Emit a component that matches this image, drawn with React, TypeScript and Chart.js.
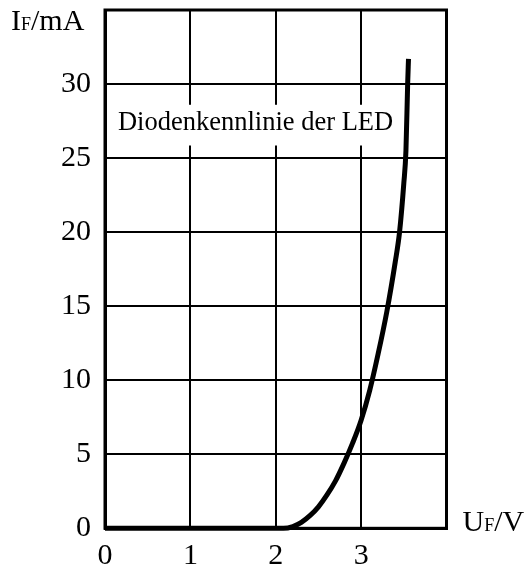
import React, { useEffect, useRef } from "react";
import { Chart, registerables } from "chart.js";

Chart.register(...registerables);

// Data (U_F in V, I_F in mA)
const voltage = [0, 1, 2, 2.09, 2.2, 2.3, 2.4, 2.5, 2.6, 2.7, 2.8, 2.9, 3.0, 3.1, 3.2, 3.3, 3.4, 3.45, 3.5, 3.525, 3.545, 3.555];
const current = [0, 0, 0, 0, 0.12, 0.4, 0.85, 1.45, 2.25, 3.2, 4.4, 5.75, 7.3, 9.3, 11.8, 14.6, 18, 20, 23.3, 25.5, 30, 31.7];

const xTicks = [0, 1, 2, 3];
const yTicks = [0, 5, 10, 15, 20, 25, 30];

const annotationText = "Diodenkennlinie der LED";

const FONT = '"Liberation Serif", "Times New Roman", serif';

const decorPlugin = {
  id: "decor",
  beforeDatasetsDraw(chart: any) {
    const { ctx, chartArea, scales } = chart;
    const xs = scales.x;
    const ys = scales.y;
    ctx.save();
    const bx0 = chartArea.left + 2;
    const bx1 = xs.getPixelForValue(3.45);
    const by0 = ys.getPixelForValue(28.6);
    const by1 = ys.getPixelForValue(25.85);
    ctx.fillStyle = "#ffffff";
    ctx.fillRect(bx0, by0, bx1 - bx0, by1 - by0);
    ctx.fillStyle = "#000000";
    ctx.font = `26.5px ${FONT}`;
    ctx.textBaseline = "alphabetic";
    ctx.textAlign = "left";
    ctx.fillText(annotationText, xs.getPixelForValue(0.152), ys.getPixelForValue(26.88));
    ctx.restore();
  },
  afterDraw(chart: any) {
    const { ctx, chartArea } = chart;
    ctx.save();
    ctx.strokeStyle = "#000";
    ctx.lineWidth = 3;
    ctx.strokeRect(chartArea.left, chartArea.top, chartArea.right - chartArea.left, chartArea.bottom - chartArea.top);
    ctx.fillStyle = "#000";
    ctx.textBaseline = "alphabetic";
    ctx.textAlign = "left";
    const drawSub = (x: number, y: number, main: string, sub: string, rest: string) => {
      ctx.font = `30px ${FONT}`;
      ctx.fillText(main, x, y);
      let cx = x + ctx.measureText(main).width;
      ctx.font = `18px ${FONT}`;
      ctx.fillText(sub, cx, y);
      cx += ctx.measureText(sub).width;
      ctx.font = `30px ${FONT}`;
      ctx.fillText(rest, cx, y);
    };
    drawSub(11, 29.5, "I", "F", "/mA");
    drawSub(chartArea.right + 16, chartArea.bottom + 3, "U", "F", "/V");
    ctx.restore();
  },
};

export default function App() {
  const ref = useRef<HTMLCanvasElement | null>(null);
  useEffect(() => {
    if (!ref.current) return;
    const chart = new Chart(ref.current, {
      type: "scatter",
      data: {
        datasets: [
          {
            data: voltage.map((v, i) => ({ x: v, y: current[i] })),
            showLine: true,
            borderColor: "#000",
            borderWidth: 5,
            pointRadius: 0,
            cubicInterpolationMode: "monotone",
            clip: false,
          } as any,
        ],
      },
      options: {
        responsive: false,
        animation: false,
        devicePixelRatio: 1,
        layout: { padding: { left: 0, right: 84.5, top: 10, bottom: 0 } },
        plugins: { legend: { display: false }, tooltip: { enabled: false } },
        scales: {
          x: {
            type: "linear",
            min: 0,
            max: 4,
            afterBuildTicks: (s: any) => {
              s.ticks = xTicks.map((v) => ({ value: v }));
            },
            afterFit: (s: any) => {
              s.height = 40.7;
              s.paddingLeft = 0;
              s.paddingRight = 0;
            },
            grid: { color: "#000", lineWidth: 2, drawTicks: false },
            border: { color: "#000", width: 3 },
            ticks: { color: "#000", font: { family: FONT, size: 30 }, padding: 10, maxRotation: 0, autoSkip: false },
          },
          y: {
            type: "linear",
            min: 0,
            max: 35,
            afterBuildTicks: (s: any) => {
              s.ticks = yTicks.map((v) => ({ value: v }));
            },
            afterFit: (s: any) => {
              s.width = 105;
              s.paddingTop = 0;
              s.paddingBottom = 0;
            },
            grid: { color: "#000", lineWidth: 2, drawTicks: false },
            border: { color: "#000", width: 3 },
            ticks: { color: "#000", font: { family: FONT, size: 30 }, padding: 14, autoSkip: false },
          },
        },
      },
      plugins: [decorPlugin],
    });
    return () => chart.destroy();
  }, []);
  return (
    <div style={{ position: "fixed", left: 0, top: 0, width: 531, height: 569, background: "#fff" }}>
      <canvas ref={ref} width={531} height={569} style={{ display: "block" }} />
    </div>
  );
}
